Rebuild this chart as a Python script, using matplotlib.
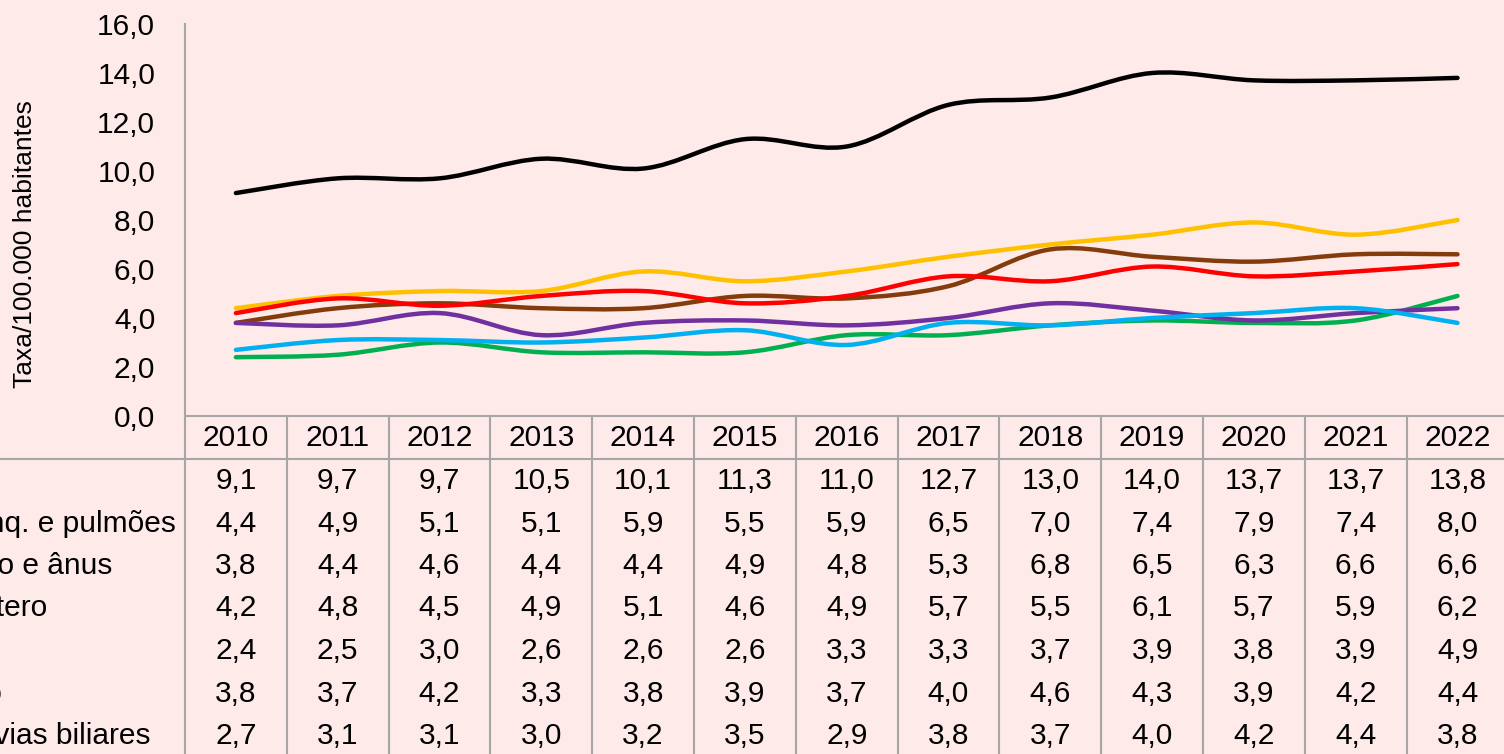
import numpy as np
import matplotlib
matplotlib.use('Agg')
import matplotlib.pyplot as plt
from matplotlib.path import Path
from matplotlib.patches import PathPatch
from matplotlib.lines import Line2D

plt.rcParams['font.family'] = ['Liberation Sans', 'DejaVu Sans']

# Dados (taxa por 100.000 habitantes)
anos = [2010, 2011, 2012, 2013, 2014, 2015, 2016, 2017, 2018, 2019, 2020, 2021, 2022]
mama = [9.1, 9.7, 9.7, 10.5, 10.1, 11.3, 11.0, 12.7, 13.0, 14.0, 13.7, 13.7, 13.8]
pulmoes = [4.4, 4.9, 5.1, 5.1, 5.9, 5.5, 5.9, 6.5, 7.0, 7.4, 7.9, 7.4, 8.0]
colon = [3.8, 4.4, 4.6, 4.4, 4.4, 4.9, 4.8, 5.3, 6.8, 6.5, 6.3, 6.6, 6.6]
utero = [4.2, 4.8, 4.5, 4.9, 5.1, 4.6, 4.9, 5.7, 5.5, 6.1, 5.7, 5.9, 6.2]
pancreas = [2.4, 2.5, 3.0, 2.6, 2.6, 2.6, 3.3, 3.3, 3.7, 3.9, 3.8, 3.9, 4.9]
estomago = [3.8, 3.7, 4.2, 3.3, 3.8, 3.9, 3.7, 4.0, 4.6, 4.3, 3.9, 4.2, 4.4]
figado = [2.7, 3.1, 3.1, 3.0, 3.2, 3.5, 2.9, 3.8, 3.7, 4.0, 4.2, 4.4, 3.8]

series = [mama, pulmoes, colon, utero, pancreas, estomago, figado]
rotulos = ['Mama', 'Traq, brônq. e pulmões', 'Cólon, reto e ânus', 'Colo do útero',
           'Pâncreas', 'Estômago', 'Fígado e vias biliares']
cores = ['#000000', '#FFC000', '#843C0C', '#FF0000', '#00B050', '#7030A0', '#00B0F0']

fundo = '#fdeae9'
cinza = '#a6a6a6'
W, H = 1504, 754


def curva_suave(x, y):
    # linha suavizada (estilo Excel) com curvas de Bézier
    pts = np.column_stack([x, y]).astype(float)
    n = len(pts)
    verts = [pts[0]]
    codes = [Path.MOVETO]
    for i in range(n - 1):
        p0 = pts[i - 1] if i > 0 else pts[i]
        p3 = pts[i + 2] if i + 2 < n else pts[i + 1]
        c1 = pts[i] + (pts[i + 1] - p0) / 6
        c2 = pts[i + 1] - (p3 - pts[i]) / 6
        verts += [c1, c2, pts[i + 1]]
        codes += [Path.CURVE4] * 3
    return Path(verts, codes)


fig = plt.figure(figsize=(W / 100, H / 100), dpi=100, facecolor=fundo)
col_w = 101.8
x0 = 185
ax = fig.add_axes([x0 / W, (H - 416) / H, 13 * col_w / W, (416 - 24) / H])
ax.set_facecolor(fundo)
ax.set_xlim(-0.5, 12.5)
ax.set_ylim(0, 16)
for s in ['top', 'right']:
    ax.spines[s].set_visible(False)
for s in ['left', 'bottom']:
    ax.spines[s].set_color(cinza)
    ax.spines[s].set_linewidth(1.5)
ax.set_xticks([])
ax.set_yticks(np.arange(0, 17, 2))
ax.set_yticklabels([f'{v:.1f}'.replace('.', ',') for v in np.arange(0, 17, 2)], fontsize=21.5)
ax.tick_params(axis='y', length=0, pad=21.5)

xs = np.arange(len(anos))
for vals, cor in zip(series, cores):
    ax.add_patch(PathPatch(curva_suave(xs, vals), facecolor='none', edgecolor=cor,
                           lw=3.2, capstyle='round', joinstyle='round'))

fig.text(25 / W, 1 - 244 / H, 'Taxa/100.000 habitantes', rotation=90,
         ha='center', va='center', fontsize=19)

# Tabela de dados
def fx(px):
    return px / W


def fy(py):
    return 1 - py / H


fig.add_artist(Line2D([0, 1], [fy(459)] * 2, transform=fig.transFigure, color=cinza, lw=1.5))
fig.add_artist(Line2D([fx(x0)] * 2, [fy(416), 0], transform=fig.transFigure, color=cinza, lw=1.5))
for k in range(1, 13):
    xp = fx(x0 + k * col_w)
    fig.add_artist(Line2D([xp, xp], [fy(416), 0], transform=fig.transFigure, color=cinza, lw=1.5))

for i, ano in enumerate(anos):
    cx = fx(x0 + (i + 0.5) * col_w)
    fig.text(cx, fy(438), str(ano), ha='center', va='center', fontsize=21.5)
    for r, vals in enumerate(series):
        fig.text(cx, fy(481 + r * 42.5), f'{vals[i]:.1f}'.replace('.', ','),
                 ha='center', va='center', fontsize=21.5)

# rótulos das linhas (cortados na borda esquerda, como no original)
for r, rot in enumerate(rotulos):
    fig.text(fx(-132), fy(481 + r * 42.5), rot, ha='left', va='center', fontsize=21.5)

fig.savefig('out.png', dpi=100, facecolor=fundo)
